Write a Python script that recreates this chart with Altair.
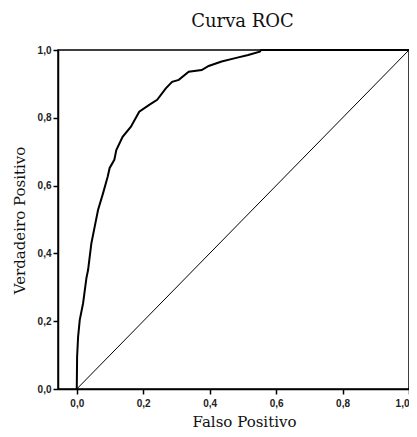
import altair as alt
import pandas as pd

# ROC curve points
fpr = [0, 0.001, 0.004, 0.009, 0.019, 0.029, 0.034, 0.044, 0.054, 0.064, 0.079,
       0.093, 0.099, 0.113, 0.119, 0.138, 0.163, 0.188, 0.218, 0.242, 0.268,
       0.287, 0.307, 0.337, 0.376, 0.397, 0.436, 0.477, 0.516, 0.551, 0.555, 1.0]
tpr = [0, 0.095, 0.154, 0.204, 0.253, 0.327, 0.351, 0.430, 0.479, 0.528, 0.577,
       0.626, 0.652, 0.676, 0.705, 0.744, 0.774, 0.818, 0.838, 0.853, 0.887,
       0.906, 0.912, 0.936, 0.941, 0.953, 0.966, 0.976, 0.985, 0.995, 1.0, 1.0]

diag_x = [0, 1]
diag_y = [0, 1]

tick_values = [0.0, 0.2, 0.4, 0.6, 0.8, 1.0]

title_text = "Curva ROC"
x_title = "Falso Positivo"
y_title = "Verdadeiro Positivo"

roc = pd.DataFrame({"x": fpr, "y": tpr, "i": list(range(len(fpr)))})
diag = pd.DataFrame({"x": diag_x, "y": diag_y, "i": [0, 1]})

label_expr = "replace(format(datum.value, '.1f'), '.', ',')"

xscale = alt.Scale(domain=[-0.0565, 1.0], nice=False, zero=False)
yscale = alt.Scale(domain=[0, 1], nice=False)

xaxis = alt.Axis(values=tick_values, labelExpr=label_expr, grid=False,
                 title=x_title, titleX=186, titleY=37, titleAlign="center",
                 titleBaseline="alphabetic", titleFont="DejaVu Serif",
                 titleFontSize=15, titleFontWeight="normal", titleColor="#111",
                 labelFont="Liberation Sans", labelFontSize=10, labelFontWeight="bold",
                 labelColor="#222", tickColor="black", tickSize=5, tickWidth=1.5,
                 domainColor="black", domainWidth=1.5, labelPadding=4)
yaxis = alt.Axis(values=tick_values, labelExpr=label_expr, grid=False,
                 title=y_title, titleX=-34, titleY=170, titleAngle=-90,
                 titleAlign="center", titleBaseline="alphabetic",
                 titleFont="DejaVu Serif", titleFontSize=15, titleFontWeight="normal",
                 titleColor="#111",
                 labelFont="Liberation Sans", labelFontSize=10, labelFontWeight="bold",
                 labelColor="#222", tickColor="black", tickSize=5, tickWidth=1.5,
                 domainColor="black", domainWidth=1.5, labelPadding=2)

curve = alt.Chart(roc).mark_line(color="black", strokeWidth=2).encode(
    x=alt.X("x:Q", scale=xscale, axis=xaxis),
    y=alt.Y("y:Q", scale=yscale, axis=yaxis),
    order="i:Q",
)

diagonal = alt.Chart(diag).mark_line(color="black", strokeWidth=1).encode(
    x=alt.X("x:Q", scale=xscale),
    y=alt.Y("y:Q", scale=yscale),
    order="i:Q",
)

chart = alt.layer(diagonal, curve).properties(
    width=351,
    height=339,
    background="white",
    title=alt.TitleParams(title_text, font="DejaVu Serif", fontSize=18,
                          fontWeight="normal", color="#111", anchor="middle",
                          frame="group", baseline="alphabetic", offset=0, dx=9),
    autosize=alt.AutoSizeParams(type="none"),
    padding={"left": 50, "top": 42, "right": 0, "bottom": 40},
).configure_view(stroke="black", strokeWidth=1.5)

chart.save("out.html", embed_options={"renderer": "svg", "actions": False})
